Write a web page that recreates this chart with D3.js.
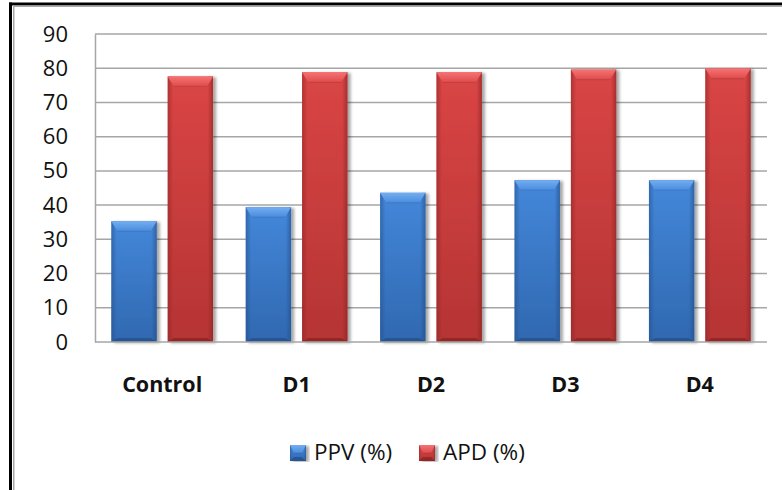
<!DOCTYPE html>
<html>
<head>
<meta charset="utf-8">
<script src="https://cdn.jsdelivr.net/npm/d3@7"></script>
<style>
  html, body { margin: 0; padding: 0; background: #fff; }
  svg { display: block; }
</style>
</head>
<body>
<svg id="chart" width="782" height="490"></svg>
<script>
// Chart data
const categories = ["Control", "D1", "D2", "D3", "D4"];
const seriesNames = ["PPV (%)", "APD (%)"];
const ppvValues = [35.3, 39.4, 43.6, 47.3, 47.3];
const apdValues = [77.6, 78.8, 78.8, 79.6, 79.9];
const yTicks = [0, 10, 20, 30, 40, 50, 60, 70, 80, 90];

const seriesValues = [ppvValues, apdValues];
const rows = categories.map((c, i) => ({
  category: c,
  values: seriesNames.map((s, j) => ({ series: s, index: j, value: seriesValues[j][i] }))
}));

const svg = d3.select("#chart");
const W = 782, H = 490;
const plot = { left: 95, right: 767, top: 34, bottom: 342 };

// Frame around the chart
svg.append("rect").attr("x", 9).attr("y", 2.5).attr("width", W - 9).attr("height", 3).attr("fill", "#000");
svg.append("rect").attr("x", 9).attr("y", 2.5).attr("width", 3).attr("height", H).attr("fill", "#000");
svg.append("rect").attr("x", 13).attr("y", 5.5).attr("width", W - 13).attr("height", 1.5).attr("fill", "#a8a8a8");
svg.append("rect").attr("x", 13).attr("y", 5.5).attr("width", 1.5).attr("height", H).attr("fill", "#a8a8a8");

const defs = svg.append("defs");

const palettes = [
  { // blue
    bodyTop: "#4487da", bodyBottom: "#3068b0",
    bevelTop: "#74aef2", bevelTopEnd: "#4a8cdc",
    edge: "#23508a", bottom: "#1f4678"
  },
  { // red
    bodyTop: "#da4545", bodyBottom: "#b53434",
    bevelTop: "#f77272", bevelTopEnd: "#dd4c4c",
    edge: "#8c2424", bottom: "#7a1e1e"
  }
];

palettes.forEach((p, i) => {
  const g = defs.append("linearGradient").attr("id", "body" + i)
    .attr("x1", 0).attr("y1", 0).attr("x2", 0).attr("y2", 1);
  g.append("stop").attr("offset", "0%").attr("stop-color", p.bodyTop);
  g.append("stop").attr("offset", "100%").attr("stop-color", p.bodyBottom);
  const t = defs.append("linearGradient").attr("id", "bevel" + i)
    .attr("x1", 0).attr("y1", 0).attr("x2", 0).attr("y2", 1);
  t.append("stop").attr("offset", "0%").attr("stop-color", p.bevelTop);
  t.append("stop").attr("offset", "100%").attr("stop-color", p.bevelTopEnd);
  const h = defs.append("linearGradient").attr("id", "side" + i)
    .attr("x1", 0).attr("y1", 0).attr("x2", 1).attr("y2", 0);
  h.append("stop").attr("offset", "0%").attr("stop-color", p.edge).attr("stop-opacity", 0.55);
  h.append("stop").attr("offset", "12%").attr("stop-color", p.edge).attr("stop-opacity", 0);
  h.append("stop").attr("offset", "88%").attr("stop-color", p.edge).attr("stop-opacity", 0);
  h.append("stop").attr("offset", "100%").attr("stop-color", p.edge).attr("stop-opacity", 0.65);
});

const shadow = defs.append("filter").attr("id", "shadow")
  .attr("x", "-20%").attr("y", "-5%").attr("width", "140%").attr("height", "110%");
shadow.append("feGaussianBlur").attr("in", "SourceAlpha").attr("stdDeviation", 1.6).attr("result", "b");
shadow.append("feOffset").attr("in", "b").attr("dx", 2.5).attr("dy", 1).attr("result", "o");
shadow.append("feComponentTransfer").attr("in", "o").attr("result", "s")
  .append("feFuncA").attr("type", "linear").attr("slope", 0.35);
const merge = shadow.append("feMerge");
merge.append("feMergeNode").attr("in", "s");
merge.append("feMergeNode").attr("in", "SourceGraphic");

// Scales
const x0 = d3.scaleBand().domain(categories).range([plot.left, plot.right]).padding(0);
const x1 = d3.scaleBand().domain(seriesNames).range([0, x0.bandwidth()])
  .paddingInner(0.195).paddingOuter(0.29);
const y = d3.scaleLinear().domain([0, 90]).range([plot.bottom, plot.top]);

// Gridlines
svg.append("g").selectAll("line").data(yTicks.filter(d => d > 0)).join("line")
  .attr("x1", plot.left).attr("x2", plot.right)
  .attr("y1", d => y(d)).attr("y2", d => y(d))
  .attr("stroke", "#a6a6a6").attr("stroke-width", 1.5);

// Y axis
const yAxis = svg.append("g").attr("transform", `translate(${plot.left},0)`)
  .call(d3.axisLeft(y).tickValues(yTicks).tickSize(0).tickPadding(27));
yAxis.select(".domain").attr("stroke", "#a6a6a6").attr("stroke-width", 1.5);
yAxis.selectAll("text")
  .attr("font-family", "'Open Sans', sans-serif").attr("font-size", 22)
  .attr("fill", "#111");

// Bevelled bar shape
function drawBar(g, bx, by, bw, bh, idx) {
  const s = Math.min(6, bw / 4), t = Math.min(10, bh / 2);
  const grp = g.append("g").attr("filter", "url(#shadow)");
  grp.append("rect").attr("x", bx).attr("y", by).attr("width", bw).attr("height", bh)
    .attr("fill", `url(#body${idx})`);
  grp.append("rect").attr("x", bx).attr("y", by).attr("width", bw).attr("height", bh)
    .attr("fill", `url(#side${idx})`);
  // bottom bevel
  grp.append("polygon")
    .attr("points", [[bx, by + bh], [bx + bw, by + bh], [bx + bw - s, by + bh - 4], [bx + s, by + bh - 4]].join(" "))
    .attr("fill", palettes[idx].bottom).attr("opacity", 0.55);
  // top bevel
  grp.append("polygon")
    .attr("points", [[bx, by], [bx + bw, by], [bx + bw - s, by + t], [bx + s, by + t]].join(" "))
    .attr("fill", `url(#bevel${idx})`);
  grp.append("line").attr("x1", bx + s).attr("x2", bx + bw - s).attr("y1", by + t).attr("y2", by + t)
    .attr("stroke", palettes[idx].edge).attr("stroke-opacity", 0.25).attr("stroke-width", 1);
}

// Bars
const barsG = svg.append("g");
rows.forEach(r => {
  r.values.forEach(v => {
    const bx = x0(r.category) + x1(v.series);
    const by = y(v.value);
    drawBar(barsG, bx, by, x1.bandwidth(), y(0) - by, v.index);
  });
});

// Baseline
svg.append("line").attr("x1", plot.left).attr("x2", plot.right)
  .attr("y1", y(0)).attr("y2", y(0)).attr("stroke", "#a6a6a6").attr("stroke-width", 1.5);

// Category labels
svg.append("g").selectAll("text").data(categories).join("text")
  .attr("x", d => x0(d) + x0.bandwidth() / 2)
  .attr("y", 392)
  .attr("text-anchor", "middle")
  .attr("font-family", "'Open Sans', sans-serif").attr("font-weight", "bold").attr("font-size", 21.5)
  .attr("fill", "#111")
  .text(d => d);

// Legend
const legendItems = [
  { name: seriesNames[0], idx: 0, x: 290 },
  { name: seriesNames[1], idx: 1, x: 419 }
];
const legend = svg.append("g");
legendItems.forEach(it => {
  drawBar(legend, it.x, 445, 16, 16, it.idx);
  legend.append("text").attr("x", it.x + 24).attr("y", 460)
    .attr("font-family", "'Open Sans', sans-serif").attr("font-size", 22.5)
    .attr("fill", "#111").text(it.name);
});
</script>
</body>
</html>
